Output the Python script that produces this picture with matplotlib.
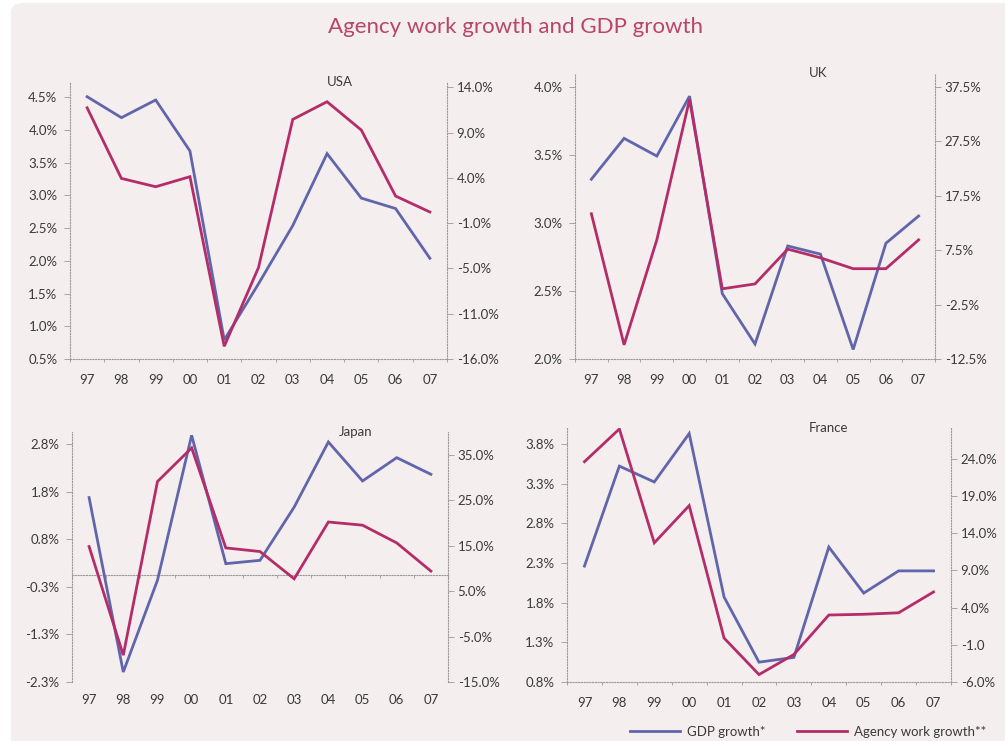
import matplotlib
matplotlib.use("Agg")
import matplotlib.pyplot as plt
from matplotlib.patches import FancyBboxPatch
from matplotlib.lines import Line2D

plt.rcParams['font.family'] = ['Lato', 'DejaVu Sans']

# ==========================
# DATA
# ==========================
years = ["97", "98", "99", "00", "01", "02", "03", "04", "05", "06", "07"]

usa_gdp = [4.51, 4.19, 4.46, 3.68, 0.79, 1.65, 2.54, 3.64, 2.96, 2.80, 2.04]
usa_agency = [11.75, 3.95, 3.03, 4.14, -14.6, -5.9, 10.47, 12.42, 9.29, 2.0, 0.24]

uk_gdp = [3.32, 3.62, 3.49, 3.93, 2.48, 2.11, 2.83, 2.77, 2.07, 2.85, 3.05]
uk_agency = [14.2, -9.9, 9.4, 35.2, 0.4, 1.3, 7.7, 6.1, 4.1, 4.1, 9.4]

japan_gdp = [1.63, -2.04, -0.11, 2.94, 0.24, 0.31, 1.43, 2.80, 1.98, 2.47, 2.12]
japan_agency = [14.8, -9.1, 29.1, 36.5, 14.5, 13.7, 7.7, 20.2, 19.5, 15.6, 9.4]

france_gdp = [2.21, 3.47, 3.27, 3.88, 1.82, 1.00, 1.06, 2.45, 1.87, 2.15, 2.15]
france_agency = [23.6, 28.0, 12.7, 17.7, -0.1, -5.0, -2.3, 3.0, 3.1, 3.3, 6.1]

# tick values and the labels as printed in the source
usa_left_ticks = [4.5, 4.0, 3.5, 3.0, 2.5, 2.0, 1.5, 1.0, 0.5]
usa_left_labels = ["4.5%", "4.0%", "3.5%", "3.0%", "2.5%", "2.0%", "1.5%", "1.0%", "0.5%"]
usa_right_ticks = [14, 9, 4, -1, -6, -11, -16]
usa_right_labels = ["14.0%", "9.0%", "4.0%", "-1.0%", "-5.0%", "-11.0%", "-16.0%"]

uk_left_ticks = [4.0, 3.5, 3.0, 2.5, 2.0]
uk_left_labels = ["4.0%", "3.5%", "3.0%", "2.5%", "2.0%"]
uk_right_ticks = [37.5, 27.5, 17.5, 7.5, -2.5, -12.5]
uk_right_labels = ["37.5%", "27.5%", "17.5%", "7.5%", "-2.5%", "-12.5%"]

japan_left_ticks = [2.75, 1.75, 0.75, -0.25, -1.25, -2.25]
japan_left_labels = ["2.8%", "1.8%", "0.8%", "-0.3%", "-1.3%", "-2.3%"]
japan_right_ticks = [35, 25, 15, 5, -5, -15]
japan_right_labels = ["35.0%", "25.0%", "15.0%", "5.0%", "-5.0%", "-15.0%"]

france_left_ticks = [3.75, 3.25, 2.75, 2.25, 1.75, 1.25, 0.75]
france_left_labels = ["3.8%", "3.3%", "2.8%", "2.3%", "1.8%", "1.3%", "0.8%"]
france_right_ticks = [24, 19, 14, 9, 4, -1, -6]
france_right_labels = ["24.0%", "19.0%", "14.0%", "9.0%", "4.0%", "-1.0", "-6.0%"]

# ==========================
# STYLE
# ==========================
BG = "#f4eeef"
BLUE = "#6165aa"
RED = "#b52d68"
GRID = "#9a9a9a"
TXT = "#3a3a3a"

W, H = 1005, 741


def rect(l, t, r, b):
    return [l / W, 1 - b / H, (r - l) / W, (b - t) / H]


panels = [
    dict(name="USA", gdp=usa_gdp, agency=usa_agency,
         lt=usa_left_ticks, ll=usa_left_labels, rt=usa_right_ticks, rl=usa_right_labels,
         ylim=(0.5, 4.735), ylim2=(-16, 14.6), box=rect(70, 82, 447, 359), tx=0.715, zero=False),
    dict(name="UK", gdp=uk_gdp, agency=uk_agency,
         lt=uk_left_ticks, ll=uk_left_labels, rt=uk_right_ticks, rl=uk_right_labels,
         ylim=(2.0, 4.1), ylim2=(-12.5, 40.07), box=rect(575, 73, 935, 359), tx=0.675, zero=False),
    dict(name="Japan", gdp=japan_gdp, agency=japan_agency,
         lt=japan_left_ticks, ll=japan_left_labels, rt=japan_right_ticks, rl=japan_right_labels,
         ylim=(-2.25, 3.01), ylim2=(-15, 40), box=rect(72, 432, 448, 682), tx=0.755, zero=True),
    dict(name="France", gdp=france_gdp, agency=france_agency,
         lt=france_left_ticks, ll=france_left_labels, rt=france_right_ticks, rl=france_right_labels,
         ylim=(0.75, 3.95), ylim2=(-6, 28.13), box=rect(567, 428, 951, 682), tx=0.68, zero=False),
]

fig = plt.figure(figsize=(W / 100, H / 100), dpi=100)
fig.patch.set_facecolor("white")
fig.patches.append(FancyBboxPatch((11 / W, -0.05), 1.05, 1 - 3 / H + 0.05,
                                  boxstyle="round,pad=0,rounding_size=0.012",
                                  transform=fig.transFigure, facecolor=BG,
                                  edgecolor="none", zorder=-10))

fig.text(515 / W, 1 - 27 / H, "Agency work growth and GDP growth",
         ha="center", va="center", fontsize=16, color="#b8456b")

x = list(range(len(years)))

for p in panels:
    ax = fig.add_axes(p["box"])
    ax.patch.set_visible(False)
    ax2 = ax.twinx()

    ax.plot(x, p["gdp"], color=BLUE, lw=2, zorder=3, solid_joinstyle="miter")
    ax2.plot(x, p["agency"], color=RED, lw=2, zorder=3, solid_joinstyle="miter")

    ax.set_xlim(-0.5, len(years) - 0.5)
    ax.set_ylim(*p["ylim"])
    ax2.set_ylim(*p["ylim2"])

    ax.set_yticks(p["lt"])
    ax.set_yticklabels(p["ll"])
    ax2.set_yticks(p["rt"])
    ax2.set_yticklabels(p["rl"])

    for a in (ax, ax2):
        a.spines["top"].set_visible(False)
        for s in ("left", "right", "bottom"):
            a.spines[s].set_linestyle((0, (1, 1.5)))
            a.spines[s].set_color(GRID)
            a.spines[s].set_linewidth(0.8)
    ax2.spines["bottom"].set_visible(False)
    ax2.spines["left"].set_visible(False)
    ax.spines["right"].set_visible(False)

    ax.tick_params(axis="y", length=4, width=0.6, color=GRID, pad=5,
                   labelsize=9.5, labelcolor=TXT)
    ax2.tick_params(axis="y", length=4, width=0.6, color=GRID, pad=3,
                    labelsize=9.5, labelcolor=TXT)

    # category labels at centres, small marks at boundaries
    ax.set_xticks(x)
    ax.set_xticks([i - 0.5 for i in range(len(years) + 1)], minor=True)
    ax.tick_params(axis="x", which="major", length=0, pad=11, labelsize=9.5, labelcolor=TXT)
    ax.tick_params(axis="x", which="minor", length=2.5, width=0.6, color=GRID)

    if p["zero"]:
        # x axis line crosses at zero, labels stay at the bottom
        ax.spines["bottom"].set_position(("data", 0))
        ax.tick_params(axis="x", which="major", labelbottom=False)
        sec = ax.secondary_xaxis("bottom")
        sec.set_xticks(x)
        sec.set_xticklabels(years)
        sec.spines["bottom"].set_visible(False)
        sec.tick_params(axis="x", length=0, pad=9, labelsize=9.5, labelcolor=TXT)
    else:
        ax.set_xticklabels(years)

    ax.text(p["tx"], 1.0, p["name"], transform=ax.transAxes, ha="center", va="center",
            fontsize=9.5, color=TXT)

# legend
h1 = Line2D([], [], color=BLUE, lw=2)
h2 = Line2D([], [], color=RED, lw=2)
fig.legend([h1, h2], ["GDP growth*", "Agency work growth**"], loc="center",
           bbox_to_anchor=(808 / W, 1 - 732 / H), ncol=2, frameon=False,
           fontsize=9.5, handlelength=3.8, columnspacing=2.4, handletextpad=0.5,
           labelcolor=TXT)

fig.savefig("out.png", dpi=100, facecolor="white")
